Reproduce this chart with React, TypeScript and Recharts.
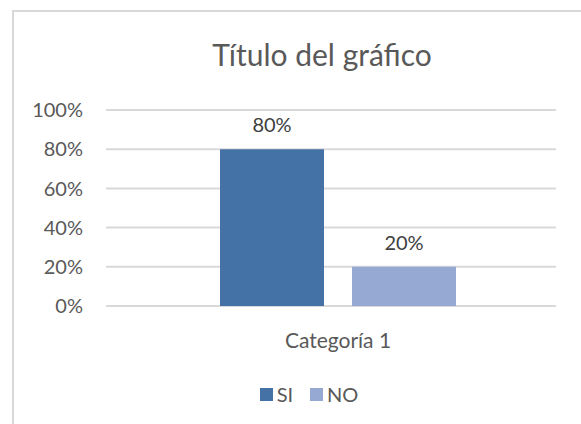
import React from "react";
import { BarChart, Bar, XAxis, YAxis, CartesianGrid, Legend, LabelList } from "recharts";

// Chart data
const categories: string[] = ["Categoría 1"];
const siValues: number[] = [0.8];
const noValues: number[] = [0.2];
const yTicks: number[] = [0, 0.2, 0.4, 0.6, 0.8, 1];

const seriesNames = ["SI", "NO"];
const COLORS = ["#4472A6", "#95A9D2"];

const data = categories.map((name, i) => ({ name, SI: siValues[i], NO: noValues[i] }));

const FONT = "Lato, 'Open Sans', sans-serif";
const pct = (v: number) => `${Math.round(v * 100)}%`;

// Legend with small squares, like the Office one
const renderLegend = () => (
  <div
    style={{
      display: "flex",
      justifyContent: "center",
      alignItems: "center",
      width: 618,
      fontFamily: FONT,
      fontSize: 20,
      color: "#595959",
    }}
  >
    {seriesNames.map((n, i) => (
      <span key={n} style={{ display: "flex", alignItems: "center", marginRight: i === 0 ? 17 : 0 }}>
        <span style={{ width: 13, height: 13, background: COLORS[i], marginRight: 4, display: "inline-block" }} />
        {n}
      </span>
    ))}
  </div>
);

const App: React.FC = () => (
  <div style={{ position: "absolute", left: 0, top: 0, width: 581, height: 424, overflow: "hidden", background: "#fff" }}>
    {/* chart frame, cut off on the right and bottom */}
    <div
      style={{
        position: "absolute",
        left: 12,
        top: 10,
        width: 640,
        height: 500,
        border: "2px solid #d9d9d9",
        boxSizing: "border-box",
      }}
    />
    <div
      style={{
        position: "absolute",
        left: 0,
        top: 36,
        width: 644,
        textAlign: "center",
        fontFamily: FONT,
        fontSize: 30,
        color: "#595959",
      }}
    >
      Título del gráfico
    </div>
    <div style={{ position: "absolute", left: 0, top: 0 }}>
      <BarChart
        width={581}
        height={424}
        data={data}
        margin={{ top: 110, right: 25, left: 0, bottom: 78 }}
        barGap={28}
      >
        <CartesianGrid vertical={false} stroke="#d9d9d9" strokeWidth={2} />
        <XAxis
          dataKey="name"
          axisLine={false}
          tickLine={false}
          tickSize={0}
          tickMargin={27}
          height={40}
          padding={{ left: 14, right: 0 }}
          tick={{ fill: "#595959", fontSize: 21, fontFamily: FONT }}
        />
        <YAxis
          domain={[0, 1]}
          ticks={yTicks}
          tickFormatter={pct}
          axisLine={false}
          tickLine={false}
          tickSize={0}
          tickMargin={23}
          width={106}
          tick={{ fill: "#595959", fontSize: 20, fontFamily: FONT }}
        />
        <Legend
          layout="horizontal"
          verticalAlign="middle"
          align="center"
          content={renderLegend}
          wrapperStyle={{ top: 382, left: 0 }}
        />
        {seriesNames.map((n, i) => (
          <Bar key={n} dataKey={n} fill={COLORS[i]} barSize={104} isAnimationActive={false}>
            <LabelList
              dataKey={n}
              position="top"
              offset={17}
              formatter={(v: any) => pct(Number(v))}
              style={{ fill: "#404040", fontSize: 20, fontFamily: FONT }}
            />
          </Bar>
        ))}
      </BarChart>
    </div>
  </div>
);

export default App;
